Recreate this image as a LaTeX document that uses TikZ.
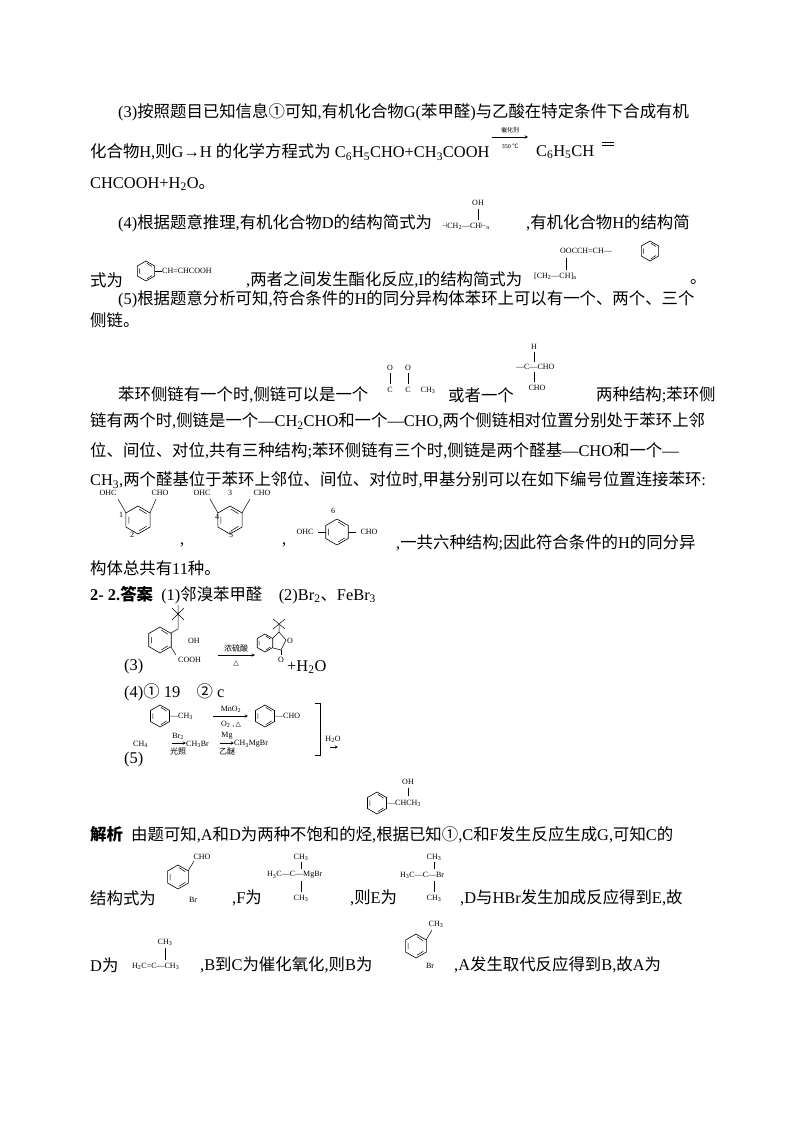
\documentclass[tikz,border=0pt]{standalone}
\usepackage{fontspec}
\setmainfont{Liberation Serif}
\newfontfamily\cjk{Noto Sans CJK SC}
\newfontfamily\djv{DejaVu Sans}
\XeTeXinterchartokenstate=1
\newXeTeXintercharclass\CJKclass
\newcount\cc
\cc="4E00 \loop\XeTeXcharclass\cc=\CJKclass \advance\cc by 1 \ifnum\cc<"A000 \repeat
\cc="3000 \loop\XeTeXcharclass\cc=\CJKclass \advance\cc by 1 \ifnum\cc<"3040 \repeat
\cc="2460 \loop\XeTeXcharclass\cc=\CJKclass \advance\cc by 1 \ifnum\cc<"2500 \repeat
\cc="FF00 \loop\XeTeXcharclass\cc=\CJKclass \advance\cc by 1 \ifnum\cc<"FFF0 \repeat
\XeTeXcharclass"2103=\CJKclass
\XeTeXinterchartoks 0 \CJKclass={\begingroup\cjk}
\XeTeXinterchartoks 4095 \CJKclass={\begingroup\cjk}
\XeTeXinterchartoks \CJKclass 0={\endgroup}
\XeTeXinterchartoks \CJKclass 4095={\endgroup}
\newcommand\fs{\fontsize{16.4}{18}\selectfont}
\newcommand\ssz{\fontsize{8}{9}\selectfont}
\newcommand\sbs[1]{$_{\mathrm{#1}}$}
\newcommand\tri{{\djv\fontsize{7}{8}\selectfont △}}
\newcommand\benz[3]{%
 \draw[line width=0.6pt] (#1+#3*0.866,#2-#3*0.5)--(#1,#2-#3)--(#1-#3*0.866,#2-#3*0.5)--(#1-#3*0.866,#2+#3*0.5)--(#1,#2+#3)--(#1+#3*0.866,#2+#3*0.5)--cycle;
 \draw[line width=0.5pt] (#1-#3*0.65,#2-#3*0.25)--(#1-#3*0.65,#2+#3*0.25) (#1+#3*0.08,#2-#3*0.78)--(#1+#3*0.6,#2-#3*0.45) (#1+#3*0.08,#2+#3*0.78)--(#1+#3*0.6,#2+#3*0.45);}
\tikzset{t/.style={anchor=west,inner sep=0pt,font=\fs},
 s/.style={anchor=center,inner sep=0pt,font=\ssz},
 bd/.style={line width=0.5pt}}
\begin{document}
\begin{tikzpicture}[x=1pt,y=-1pt]
\useasboundingbox[fill=white] (0,0) rectangle (800,1132);
% part (3)
\node[t] at (118,112) {(3)按照题目已知信息①可知,有机化合物G(苯甲醛)与乙酸在特定条件下合成有机};
\node[t] at (90,152) {化合物H,则G→H 的化学方程式为 C\sbs6H\sbs5CHO+CH\sbs3COOH};
\draw[bd,-stealth] (492,137)--(528,137);
\node[s,font=\fontsize{6}{7}\selectfont] at (510,130) {催化剂};
\node[s,font=\fontsize{6}{7}\selectfont] at (510,146) {350 ℃};
\node[t] at (536,152) {C\sbs6H\sbs5CH};
\draw[bd] (602,142)--(614,142) (602,145)--(614,145);
\node[t] at (90,184) {CHCOOH+H\sbs2O。};
% part (4)
\node[t] at (118,223) {(4)根据题意推理,有机化合物D的结构简式为};
\node[s] at (478,203) {OH};
\draw[bd] (478,209)--(478,220);
\node[s,anchor=west] at (442,226) {$\dashv$CH\sbs2—CH$\vdash$\sbs{n}};
\node[t] at (526,223) {,有机化合物H的结构简};
\node[t] at (90,280) {式为};
\benz{146}{271}{10}
\draw[bd] (155,271)--(162,271);
\node[s,anchor=west] at (162,271) {CH=CHCOOH};
\node[t] at (246,280) {,两者之间发生酯化反应,I的结构简式为};
\node[s,anchor=west] at (534,276) {[CH\sbs2—CH]\sbs{n}};
\draw[bd] (566,270)--(566,258);
\node[s,anchor=west] at (560,251) {OOCCH=CH—};
\benz{650}{251}{10}
\node[t] at (690,282) {。};
% part (5)
\node[t] at (118,299) {(5)根据题意分析可知,符合条件的H的同分异构体苯环上可以有一个、两个、三个};
\node[t] at (90,320) {侧链。};
\node[t] at (118,395) {苯环侧链有一个时,侧链可以是一个};
\node[s] at (390,368) {O}; \node[s] at (408,368) {O};
\draw[bd] (390,373)--(390,384) (408,373)--(408,384);
\node[s] at (390,390) {C}; \node[s] at (408,390) {C}; \node[s] at (428,390) {CH\sbs3};
\node[t] at (448,395) {或者一个};
\node[s] at (534,347) {H};
\draw[bd] (534,352)--(534,362) (534,372)--(534,382);
\node[s,anchor=west] at (516,367) {—C—CHO};
\node[s] at (537,388) {CHO};
\node[t] at (596,395) {两种结构;苯环侧};
\node[t] at (90,421) {链有两个时,侧链是一个—CH\sbs2CHO和一个—CHO,两个侧链相对位置分别处于苯环上邻};
\node[t] at (90,451) {位、间位、对位,共有三种结构;苯环侧链有三个时,侧链是两个醛基—CHO和一个—};
\node[t] at (90,480) {CH\sbs3,两个醛基位于苯环上邻位、间位、对位时,甲基分别可以在如下编号位置连接苯环:};
% isomer rings
\benz{138}{520}{14}
\draw[bd] (126,513)--(118,499) (150,513)--(156,499);
\node[s] at (108,493) {OHC}; \node[s] at (160,493) {CHO};
\node[s] at (121,515) {1}; \node[s] at (132,535) {2};
\node[t] at (180,545) {,};
\benz{230}{520}{14}
\draw[bd] (218,513)--(210,499) (242,513)--(250,499);
\node[s] at (202,493) {OHC}; \node[s] at (230,493) {3}; \node[s] at (262,493) {CHO};
\node[s] at (217,517) {4}; \node[s] at (231,535) {5};
\node[t] at (282,545) {,};
\benz{337}{532}{13}
\draw[bd] (326,532)--(318,532) (348,532)--(356,532);
\node[s] at (305,532) {OHC}; \node[s] at (369,532) {CHO}; \node[s] at (333,511) {6};
\node[t] at (396,543) {,一共六种结构;因此符合条件的H的同分异};
\node[t] at (90,568) {构体总共有11种。};
% answer 2-2
\node[t] at (90,595) {\textbf{2- 2.}\textbf{答案}\ \ (1)邻溴苯甲醛\quad(2)Br\sbs2、FeBr\sbs3};
\benz{160}{640}{13}
\draw[bd] (171,633)--(178,629)--(178,615) (172,608)--(184,620) (172,620)--(184,608) (178,614)--(178,605);
\draw[bd] (171,647)--(176,655);
\node[s,anchor=west] at (188,641) {OH};
\node[s,anchor=west] at (178,660) {COOH};
\draw[bd,-stealth] (218,655)--(255,655);
\node[s] at (236,648) {浓硫酸};
\node[s] at (236,664) {\tri};
\benz{265}{643}{9}
\draw[bd] (273,638)--(279,632)--(286,640)--(281,650)--(273,648);
\draw[bd] (279,632)--(279,625) (273,619)--(285,629) (273,629)--(285,619);
\node[s] at (290,641) {O};
\draw[bd] (281,650)--(281,655);
\node[s] at (281,660) {O};
\node[t] at (287,667) {+H\sbs2O};
\node[t] at (124,667) {(3)};
\node[t] at (124,692) {(4)①\ 19\quad ②\ c};
\benz{160}{716}{11}
\node[s,anchor=west] at (170,716) {—CH\sbs3};
\draw[bd,-stealth] (213,716)--(248,716);
\node[s] at (231,709) {MnO\sbs2};
\node[s] at (231,724) {O\sbs2 ,\,\tri};
\benz{265}{716}{11}
\node[s,anchor=west] at (275,716) {—CHO};
\draw[bd] (315,703)--(320,703)--(320,755)--(315,755);
\node[s,anchor=west] at (133,744) {CH\sbs4};
\draw[bd,-stealth] (172,743)--(186,743);
\node[s] at (178,736) {Br\sbs2}; \node[s] at (178,751) {光照};
\node[s,anchor=west] at (186,744) {CH\sbs3Br};
\draw[bd,-stealth] (220,743)--(234,743);
\node[s] at (227,736) {Mg}; \node[s] at (227,751) {乙醚};
\node[s,anchor=west] at (234,744) {CH\sbs3MgBr};
\node[s] at (333,739) {H\sbs2O};
\draw[bd,-stealth] (330,747)--(338,747);
\node[t] at (124,760) {(5)};
\benz{377}{803}{11}
\node[s] at (408,782) {OH};
\draw[bd] (408,788)--(408,796);
\node[s,anchor=west] at (387,803) {—CHCH\sbs3};
% analysis
\node[t] at (90,835) {\textbf{解析}\ \ 由题可知,A和D为两种不饱和的烃,根据已知①,C和F发生反应生成G,可知C的};
\node[t] at (90,898) {结构式为};
\benz{178}{877}{12}
\draw[bd] (188,871)--(194,861);
\node[s] at (202,857) {CHO};
\node[s] at (193,900) {Br};
\node[t] at (232,898) {,F为};
\node[s] at (301,857) {CH\sbs3};
\draw[bd] (301,862)--(301,869) (301,881)--(301,892);
\node[s,anchor=west] at (267,875) {H\sbs3C—C—MgBr};
\node[s] at (301,898) {CH\sbs3};
\node[t] at (350,898) {,则E为};
\node[s] at (434,857) {CH\sbs3};
\draw[bd] (434,862)--(434,869) (434,881)--(434,892);
\node[s,anchor=west] at (400,875) {H\sbs3C—C—Br};
\node[s] at (434,898) {CH\sbs3};
\node[t] at (460,898) {,D与HBr发生加成反应得到E,故};
\node[t] at (90,965) {D为};
\node[s] at (165,942) {CH\sbs3};
\draw[bd] (165,948)--(165,960);
\node[s,anchor=west] at (132,966) {H\sbs2C=C—CH\sbs3};
\node[t] at (200,965) {,B到C为催化氧化,则B为};
\benz{416}{946}{12}
\draw[bd] (426,940)--(432,930);
\node[s] at (436,924) {CH\sbs3};
\node[s] at (430,966) {Br};
\node[t] at (454,965) {,A发生取代反应得到B,故A为};
\end{tikzpicture}
\end{document}
